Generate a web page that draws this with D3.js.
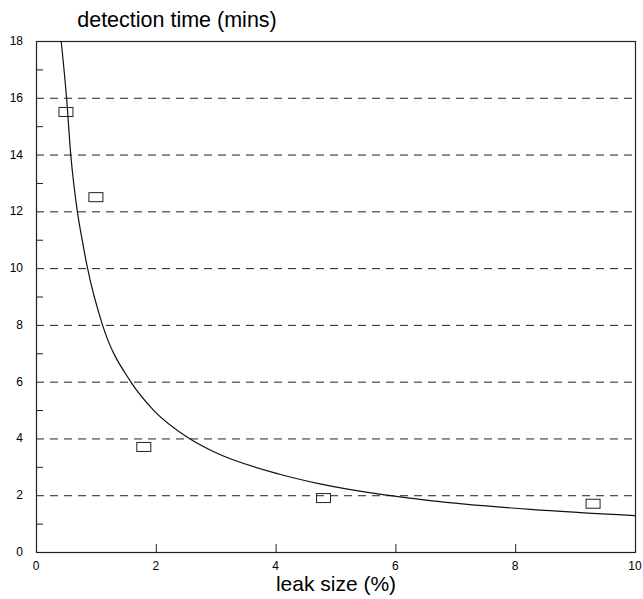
<!DOCTYPE html>
<html>
<head>
<meta charset="utf-8">
<script src="https://cdnjs.cloudflare.com/ajax/libs/d3/7.8.5/d3.min.js"></script>
<style>
	body { margin: 0; background: #fff; }
	svg { display: block; font-family: 'Liberation Sans', Arial, sans-serif; }
</style>
</head>
<body>
<script>

// measured detection times
var leakSize = [0.5, 1.0, 1.8, 4.8, 9.3];
var detectTime = [15.5, 12.5, 3.7, 1.9, 1.7];

// fitted curve
var curveX = [0.42, 0.51, 0.58, 0.69, 0.77, 0.86, 1.11, 1.58, 1.96, 2.56, 2.96, 4.07, 4.74, 5.79, 6.58, 8.25, 10];
var curveY = [18, 16, 14, 12, 11, 10, 8, 6, 5, 4, 3.54, 2.74, 2.40, 2.02, 1.81, 1.50, 1.28];

var xTicks = [0, 2, 4, 6, 8, 10];
var yTicks = [0, 2, 4, 6, 8, 10, 12, 14, 16, 18];
var yMinor = [1, 3, 5, 7, 9, 11, 13, 15, 17];

(function(){

	var w = 643;
	var h = 599;
	var left = 36, right = 635, top = 41, bottom = 552;

	var svg = d3.select('body')
				.append('svg')
				.attr('width', w)
				.attr('height', h);

	var x = d3.scaleLinear().domain([0, 10]).range([left, right]);
	var y = d3.scaleLinear().domain([0, 18]).range([bottom, top]);

	// dashed grid lines
	svg.selectAll('line.grid')
		.data(yTicks.filter(function(d){ return d > 0 && d < 18; }))
		.enter()
		.append('line')
		.attr('class', 'grid')
		.attr('x1', left)
		.attr('x2', right)
		.attr('y1', function(d){ return y(d) + 0.5; })
		.attr('y2', function(d){ return y(d) + 0.5; })
		.attr('stroke', '#222')
		.attr('stroke-width', 1)
		.attr('stroke-dasharray', '8,6');

	// minor ticks on y axis
	svg.selectAll('line.minor')
		.data(yMinor)
		.enter()
		.append('line')
		.attr('class', 'minor')
		.attr('x1', left)
		.attr('x2', left + 7)
		.attr('y1', function(d){ return y(d) + 0.5; })
		.attr('y2', function(d){ return y(d) + 0.5; })
		.attr('stroke', '#222');

	// x ticks
	svg.selectAll('line.xtick')
		.data(xTicks.filter(function(d){ return d > 0 && d < 10; }))
		.enter()
		.append('line')
		.attr('class', 'xtick')
		.attr('x1', function(d){ return x(d) + 0.5; })
		.attr('x2', function(d){ return x(d) + 0.5; })
		.attr('y1', bottom)
		.attr('y2', bottom - 8)
		.attr('stroke', '#222');

	// frame
	svg.append('rect')
		.attr('x', left + 0.5)
		.attr('y', top + 0.5)
		.attr('width', right - left)
		.attr('height', bottom - top)
		.attr('fill', 'none')
		.attr('stroke', '#222')
		.attr('stroke-width', 1.2);

	// tick labels
	svg.selectAll('text.xlab')
		.data(xTicks)
		.enter()
		.append('text')
		.attr('class', 'xlab')
		.attr('x', function(d){ return x(d); })
		.attr('y', bottom + 18)
		.attr('text-anchor', 'middle')
		.attr('font-size', 12)
		.text(function(d){ return d; });

	svg.selectAll('text.ylab')
		.data(yTicks)
		.enter()
		.append('text')
		.attr('class', 'ylab')
		.attr('x', 23)
		.attr('y', function(d){ return y(d) + 4; })
		.attr('text-anchor', 'end')
		.attr('font-size', 12)
		.text(function(d){ return d; });

	// curve
	var line = d3.line()
		.x(function(d){ return x(d); })
		.y(function(d, i){ return y(curveY[i]); })
		.curve(d3.curveMonotoneX);

	svg.append('path')
		.attr('d', line(curveX))
		.attr('fill', 'none')
		.attr('stroke', '#111')
		.attr('stroke-width', 1.2);

	// markers
	svg.selectAll('rect.pt')
		.data(leakSize)
		.enter()
		.append('rect')
		.attr('class', 'pt')
		.attr('x', function(d){ return x(d) - 7; })
		.attr('y', function(d, i){ return y(detectTime[i]) - 4.5; })
		.attr('width', 14)
		.attr('height', 9)
		.attr('fill', 'none')
		.attr('stroke', '#222')
		.attr('stroke-width', 1);

	// titles
	svg.append('text')
		.attr('x', 177)
		.attr('y', 27)
		.attr('text-anchor', 'middle')
		.attr('font-size', 21.5)
		.text('detection time (mins)');

	svg.append('text')
		.attr('x', 336)
		.attr('y', 591)
		.attr('text-anchor', 'middle')
		.attr('font-size', 21)
		.text('leak size (%)');

})();

</script>
</body>
</html>
